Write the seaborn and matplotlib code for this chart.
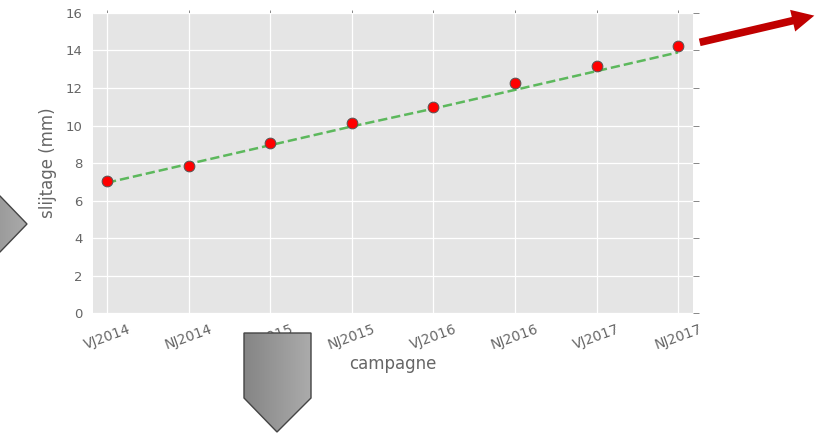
import numpy as np
import pandas as pd
import seaborn as sns
import matplotlib.pyplot as plt
from matplotlib.patches import Polygon, FancyArrowPatch
from matplotlib.colors import LinearSegmentedColormap

campagnes = ['VJ2014', 'NJ2014', 'VJ2015', 'NJ2015', 'VJ2016', 'NJ2016', 'VJ2017', 'NJ2017']
slijtage = [7.05, 7.85, 9.05, 10.15, 11.0, 12.25, 13.15, 14.25]
trend = [6.95, 7.95, 8.95, 9.95, 10.9, 11.9, 12.9, 13.9]
y_ticks = [0, 2, 4, 6, 8, 10, 12, 14, 16]

df = pd.DataFrame({'campagne': campagnes, 'slijtage': slijtage, 'trend': trend})

sns.set_style('darkgrid', {'axes.facecolor': '#e5e5e5', 'grid.color': 'white'})
plt.rcParams['font.family'] = ['DejaVu Sans']

fig = plt.figure(figsize=(8.17, 4.33), dpi=100)
ax = fig.add_axes([0.114, 0.277, 0.734, 0.693])

sns.lineplot(data=df, x='campagne', y='trend', ax=ax, color='#5cb85c',
             linestyle='--', linewidth=1.8, dashes=(5, 3.5))
sns.scatterplot(data=df, x='campagne', y='slijtage', ax=ax, color='red',
                s=60, edgecolor='#555555', linewidth=0.7, zorder=5)

ax.set_xlim(-0.17, 7.18)
ax.set_ylim(0, 16)
ax.set_yticks(y_ticks)
ax.set_xticks(range(len(campagnes)))
ax.set_xticklabels(campagnes, rotation=20)
ax.grid(linewidth=0.9)
ax.tick_params(axis='both', colors='#888888', labelcolor='#666666', labelsize=9.5,
               direction='out', length=4, width=0.7, top=True, right=True)
ax.tick_params(axis='x', length=2.5, pad=4, labelsize=10)
for s in ax.spines.values():
    s.set_visible(False)

ax.set_xlabel('campagne', color='#666666', fontsize=12, labelpad=2)
ax.set_ylabel('slijtage (mm)', color='#666666', fontsize=12, labelpad=6)

# decoratie (pijlen) over het hele figuur
ov = fig.add_axes([0, 0, 1, 1], zorder=10)
ov.set_xlim(0, 817)
ov.set_ylim(433, 0)
ov.axis('off')
ov.patch.set_alpha(0)

grijs = LinearSegmentedColormap.from_list('grijs', ['#858585', '#ababab'])
grad = np.linspace(0, 1, 64).reshape(1, -1)

def grijze_pijl(punten, x0, x1, y0, y1):
    poly = Polygon(punten, closed=True, facecolor='none', edgecolor='#444444', linewidth=1)
    ov.add_patch(poly)
    im = ov.imshow(grad, cmap=grijs, extent=(x0, x1, y1, y0), aspect='auto', zorder=1)
    im.set_clip_path(poly)
    poly.set_zorder(2)

grijze_pijl([(-40, 196), (0, 196), (27, 224), (0, 252), (-40, 252)], -40, 28, 196, 252)
grijze_pijl([(244, 333), (311, 333), (311, 398), (277, 432), (244, 398)], 244, 311, 333, 432)

pijl = FancyArrowPatch((697, 43), (817, 15),
                       arrowstyle='simple,head_length=1.6,head_width=1.6,tail_width=0.55',
                       mutation_scale=10, color='#c00000', linewidth=0)
ov.add_patch(pijl)
ov.set_xlim(0, 817)
ov.set_ylim(433, 0)

fig.savefig('out.png', dpi=100)
